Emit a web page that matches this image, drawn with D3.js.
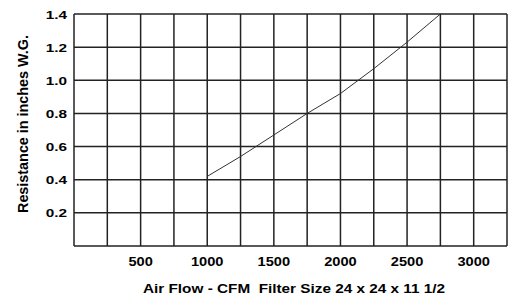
<!DOCTYPE html>
<html><head><meta charset="utf-8">
<script src="https://cdn.jsdelivr.net/npm/d3@7"></script>
<style>body{margin:0;background:#fff}svg{display:block}text{font-family:"Liberation Sans",Arial,sans-serif;font-weight:bold;fill:#000}</style>
</head><body>
<script>
const airflow = [1000,1250,1500,1750,2000,2250,2500,2750];
const resistance = [0.42,0.54,0.67,0.80,0.92,1.07,1.23,1.40];
const xTickLabels = [500,1000,1500,2000,2500,3000];
const yTickLabels = [0.2,0.4,0.6,0.8,1.0,1.2,1.4];
const xTitle = "Air Flow - CFM\u00a0 Filter Size 24 x 24 x 11 1/2";
const yTitle = "Resistance in inches W.G.";

const W=509,H=296;
const m={l:74,r:2,t:14,b:50};
const svg=d3.select("body").append("svg").attr("width",W).attr("height",H);
const x=d3.scaleLinear().domain([0,3250]).range([m.l,W-m.r]);
const y=d3.scaleLinear().domain([0,1.4]).range([H-m.b,m.t]);

const g=svg.append("g");
g.selectAll(".vg").data(d3.range(0,3251,250)).join("line")
 .attr("x1",d=>x(d)).attr("x2",d=>x(d)).attr("y1",y(0)).attr("y2",y(1.4))
 .attr("stroke","#222").attr("stroke-width",1.5);
g.selectAll(".hg").data(d3.range(0,7).map(i=>i*0.2).concat([1.4])).join("line")
 .attr("x1",x(0)).attr("x2",x(3250)).attr("y1",d=>y(d)).attr("y2",d=>y(d))
 .attr("stroke","#222").attr("stroke-width",1.5);

svg.append("g").selectAll("text").data(yTickLabels).join("text")
 .attr("transform",d=>`translate(${m.l-7},${y(d)+4.5}) scale(1.3,1)`)
 .attr("text-anchor","end").attr("font-size",11.8)
 .text(d=>d.toFixed(1));
svg.append("g").selectAll("text").data(xTickLabels).join("text")
 .attr("transform",d=>`translate(${x(d)},${y(0)+20}) scale(1.17,1)`)
 .attr("text-anchor","middle").attr("font-size",12.5)
 .text(d=>d);

svg.append("text").attr("x",294).attr("y",292.5).attr("text-anchor","middle")
 .attr("font-size",12.8).attr("textLength",302).attr("lengthAdjust","spacingAndGlyphs").text(xTitle);
svg.append("text").attr("transform",`translate(28,124) rotate(-90) scale(1,1.1)`)
 .attr("text-anchor","middle").attr("font-size",13).attr("textLength",178)
 .attr("lengthAdjust","spacingAndGlyphs").text(yTitle);

const line=d3.line().x((d,i)=>x(airflow[i])).y(d=>y(d));
svg.append("path").datum(resistance).attr("d",line).attr("fill","none")
 .attr("stroke","#333").attr("stroke-width",1);
</script>
</body></html>
